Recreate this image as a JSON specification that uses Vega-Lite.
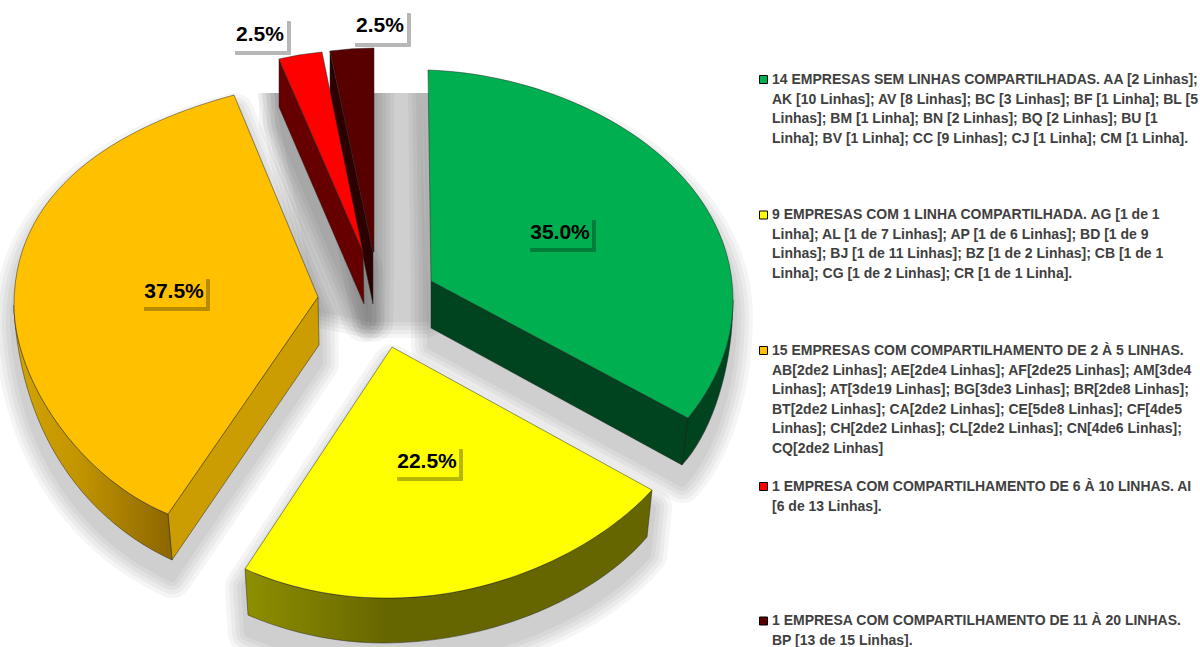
{
"$schema":"https://vega.github.io/schema/vega-lite/v6.json",
"width":1200,"height":647,"padding":0,
"autosize":{"type":"none"},
"background":"white",
"view":{"stroke":null},
"config":{"axis":{"domain":false,"ticks":false,"labels":false,"grid":false,"title":null},"legend":{"disable":true}},
"datasets":{
"sombra":[{"ordem":6,"nome":"fundo"},{"ordem":5,"nome":"bordo"},{"ordem":4,"nome":"vermelho"},{"ordem":3,"nome":"laranja"},{"ordem":2,"nome":"amarelo"},{"ordem":1,"nome":"verde"}],
"mascara":[{"ordem":7,"nome":"mascara"}],
"fatias":[
{"ordem":5,"nome":"bordo","percentual":2.5,"rotulo":"2.5%"},
{"ordem":4,"nome":"vermelho","percentual":2.5,"rotulo":"2.5%"},
{"ordem":3,"nome":"laranja","percentual":37.5,"rotulo":"37.5%"},
{"ordem":2,"nome":"amarelo","percentual":22.5,"rotulo":"22.5%"},
{"ordem":1,"nome":"verde","percentual":35.0,"rotulo":"35.0%"}],
"legenda":[
{"ordem":1,"nome":"verde","texto":"14 EMPRESAS SEM LINHAS COMPARTILHADAS. AA [2 Linhas];\nAK [10 Linhas]; AV [8 Linhas]; BC [3 Linhas]; BF [1 Linha]; BL [5\nLinhas]; BM [1 Linha]; BN [2 Linhas]; BQ [2 Linhas]; BU [1\nLinha]; BV [1 Linha]; CC [9 Linhas]; CJ [1 Linha]; CM [1 Linha]."},
{"ordem":2,"nome":"amarelo","texto":"9 EMPRESAS COM 1 LINHA COMPARTILHADA. AG [1 de 1\nLinha]; AL [1 de 7 Linhas]; AP [1 de 6 Linhas]; BD [1 de 9\nLinhas]; BJ [1 de 11 Linhas]; BZ [1 de 2 Linhas]; CB [1 de 1\nLinha]; CG [1 de 2 Linhas]; CR [1 de 1 Linha]."},
{"ordem":3,"nome":"laranja","texto":"15 EMPRESAS COM COMPARTILHAMENTO DE 2 À 5 LINHAS.\nAB[2de2 Linhas]; AE[2de4 Linhas]; AF[2de25 Linhas]; AM[3de4\nLinhas]; AT[3de19 Linhas]; BG[3de3 Linhas]; BR[2de8 Linhas];\nBT[2de2 Linhas]; CA[2de2 Linhas]; CE[5de8 Linhas]; CF[4de5\nLinhas]; CH[2de2 Linhas]; CL[2de2 Linhas]; CN[4de6 Linhas];\nCQ[2de2 Linhas]"},
{"ordem":4,"nome":"vermelho","texto":"1 EMPRESA COM COMPARTILHAMENTO DE 6 À 10 LINHAS. AI\n[6 de 13 Linhas]."},
{"ordem":5,"nome":"bordo","texto":"1 EMPRESA COM COMPARTILHAMENTO DE 11 À 20 LINHAS.\nBP [13 de 15 Linhas]."}]
},
"resolve":{"scale":{"x":"independent","y":"independent","shape":"independent","fill":"independent"}},
"layer":[
{"data":{"name":"sombra"},"mark":{"type":"point","filled":true,"size":4,"fill":"#000","stroke":"#000","strokeWidth":40,"strokeJoin":"round","opacity":0.035,"yOffset":18},
"encoding":{"x":{"field":"ordem","type":"quantitative","axis":null,"scale":{"domain":[1,2,3,4,5,6],"range":[431,392,318,363,373,373]}},"y":{"field":"ordem","type":"quantitative","axis":null,"scale":{"domain":[1,2,3,4,5,6],"range":[281,347,297,252,252,252]}},
"shape":{"field":"nome","type":"nominal","legend":null,"scale":{"domain":["verde","amarelo","laranja","vermelho","bordo","fundo"],"range":["M0 0 L-3 -211 C144 -206 302 -116 302 19 L301 44 C297 100 278 155 251 184 L0 47 Z","M0 0 L260 143 L255 190 C203 251 98 296 -9 296 C-57 296 -105 285 -144 268 L-147 222 Z","M0 0 L-84 -202 C-184 -175 -304 -117 -304 8 L-304 13 C-296 143 -228 225 -146 263 L1 48 Z","M0 0 L-84 -193 L-84 -145 L1 52 Z","M1 0 L1 -204 L-43 -201 L-43 -153 L0 52 Z","M-98 -190 L42 -190 L52 48 L-3 48 L-53 38 Z"]}}}},
{"data":{"name":"sombra"},"mark":{"type":"point","filled":true,"size":4,"fill":"#000","stroke":"#000","strokeWidth":32,"strokeJoin":"round","opacity":0.035,"yOffset":18},
"encoding":{"x":{"field":"ordem","type":"quantitative","axis":null,"scale":{"domain":[1,2,3,4,5,6],"range":[431,392,318,363,373,373]}},"y":{"field":"ordem","type":"quantitative","axis":null,"scale":{"domain":[1,2,3,4,5,6],"range":[281,347,297,252,252,252]}},
"shape":{"field":"nome","type":"nominal","legend":null,"scale":{"domain":["verde","amarelo","laranja","vermelho","bordo","fundo"],"range":["M0 0 L-3 -211 C144 -206 302 -116 302 19 L301 44 C297 100 278 155 251 184 L0 47 Z","M0 0 L260 143 L255 190 C203 251 98 296 -9 296 C-57 296 -105 285 -144 268 L-147 222 Z","M0 0 L-84 -202 C-184 -175 -304 -117 -304 8 L-304 13 C-296 143 -228 225 -146 263 L1 48 Z","M0 0 L-84 -193 L-84 -145 L1 52 Z","M1 0 L1 -204 L-43 -201 L-43 -153 L0 52 Z","M-98 -190 L42 -190 L52 48 L-3 48 L-53 38 Z"]}}}},
{"data":{"name":"sombra"},"mark":{"type":"point","filled":true,"size":4,"fill":"#000","stroke":"#000","strokeWidth":24,"strokeJoin":"round","opacity":0.035,"yOffset":18},
"encoding":{"x":{"field":"ordem","type":"quantitative","axis":null,"scale":{"domain":[1,2,3,4,5,6],"range":[431,392,318,363,373,373]}},"y":{"field":"ordem","type":"quantitative","axis":null,"scale":{"domain":[1,2,3,4,5,6],"range":[281,347,297,252,252,252]}},
"shape":{"field":"nome","type":"nominal","legend":null,"scale":{"domain":["verde","amarelo","laranja","vermelho","bordo","fundo"],"range":["M0 0 L-3 -211 C144 -206 302 -116 302 19 L301 44 C297 100 278 155 251 184 L0 47 Z","M0 0 L260 143 L255 190 C203 251 98 296 -9 296 C-57 296 -105 285 -144 268 L-147 222 Z","M0 0 L-84 -202 C-184 -175 -304 -117 -304 8 L-304 13 C-296 143 -228 225 -146 263 L1 48 Z","M0 0 L-84 -193 L-84 -145 L1 52 Z","M1 0 L1 -204 L-43 -201 L-43 -153 L0 52 Z","M-98 -190 L42 -190 L52 48 L-3 48 L-53 38 Z"]}}}},
{"data":{"name":"sombra"},"mark":{"type":"point","filled":true,"size":4,"fill":"#000","stroke":"#000","strokeWidth":16,"strokeJoin":"round","opacity":0.035,"yOffset":18},
"encoding":{"x":{"field":"ordem","type":"quantitative","axis":null,"scale":{"domain":[1,2,3,4,5,6],"range":[431,392,318,363,373,373]}},"y":{"field":"ordem","type":"quantitative","axis":null,"scale":{"domain":[1,2,3,4,5,6],"range":[281,347,297,252,252,252]}},
"shape":{"field":"nome","type":"nominal","legend":null,"scale":{"domain":["verde","amarelo","laranja","vermelho","bordo","fundo"],"range":["M0 0 L-3 -211 C144 -206 302 -116 302 19 L301 44 C297 100 278 155 251 184 L0 47 Z","M0 0 L260 143 L255 190 C203 251 98 296 -9 296 C-57 296 -105 285 -144 268 L-147 222 Z","M0 0 L-84 -202 C-184 -175 -304 -117 -304 8 L-304 13 C-296 143 -228 225 -146 263 L1 48 Z","M0 0 L-84 -193 L-84 -145 L1 52 Z","M1 0 L1 -204 L-43 -201 L-43 -153 L0 52 Z","M-98 -190 L42 -190 L52 48 L-3 48 L-53 38 Z"]}}}},
{"data":{"name":"sombra"},"mark":{"type":"point","filled":true,"size":4,"fill":"#000","stroke":"#000","strokeWidth":8,"strokeJoin":"round","opacity":0.035,"yOffset":18},
"encoding":{"x":{"field":"ordem","type":"quantitative","axis":null,"scale":{"domain":[1,2,3,4,5,6],"range":[431,392,318,363,373,373]}},"y":{"field":"ordem","type":"quantitative","axis":null,"scale":{"domain":[1,2,3,4,5,6],"range":[281,347,297,252,252,252]}},
"shape":{"field":"nome","type":"nominal","legend":null,"scale":{"domain":["verde","amarelo","laranja","vermelho","bordo","fundo"],"range":["M0 0 L-3 -211 C144 -206 302 -116 302 19 L301 44 C297 100 278 155 251 184 L0 47 Z","M0 0 L260 143 L255 190 C203 251 98 296 -9 296 C-57 296 -105 285 -144 268 L-147 222 Z","M0 0 L-84 -202 C-184 -175 -304 -117 -304 8 L-304 13 C-296 143 -228 225 -146 263 L1 48 Z","M0 0 L-84 -193 L-84 -145 L1 52 Z","M1 0 L1 -204 L-43 -201 L-43 -153 L0 52 Z","M-98 -190 L42 -190 L52 48 L-3 48 L-53 38 Z"]}}}},
{"data":{"name":"mascara"},"mark":{"type":"point","filled":true,"size":4,"fill":"#fff","stroke":null,"opacity":1},
"encoding":{"x":{"field":"ordem","type":"quantitative","axis":null,"scale":{"domain":[7,8],"range":[380,400]}},"y":{"field":"ordem","type":"quantitative","axis":null,"scale":{"domain":[7,8],"range":[0,10]}},
"shape":{"field":"nome","type":"nominal","legend":null,"scale":{"domain":["mascara"],"range":["M-380 0 H372 V93 H-380 Z"]}}}},
{"data":{"name":"fatias"},"transform":[{"filter":"datum.nome!='amarelo'"}],"mark":{"type":"point","filled":true,"size":4,"stroke":"#222","strokeWidth":0.6,"strokeOpacity":0.8,"opacity":1},
"encoding":{"x":{"field":"ordem","type":"quantitative","axis":null,"scale":{"domain":[1,2,3,4,5],"range":[431,392,318,363,373]}},"y":{"field":"ordem","type":"quantitative","axis":null,"scale":{"domain":[1,2,3,4,5],"range":[281,347,297,252,252]}},
"fill":{"field":"nome","type":"nominal","legend":null,"scale":{"domain":["verde","laranja","vermelho","bordo"],"range":["#00431F","#CC9D00","#660000","#2B0000"]}},
"shape":{"field":"nome","type":"nominal","legend":null,"scale":{"domain":["verde","laranja","vermelho","bordo"],"range":["M0 0 L257 137 L251 184 L0 47 Z M257 137 L251 184 C278 155 297 100 301 44 L302 19 C302 64 284 104 257 137 Z","M0 0 L-150 217 L-146 263 L1 48 Z","M-84 -193 L-84 -145 L1 52 L0 0 Z","M-43 -201 L-43 -153 L0 52 L0 0 Z"]}}}},
{"data":{"name":"fatias"},"transform":[{"filter":"datum.nome=='laranja'"}],"mark":{"type":"point","filled":true,"size":4,"shape":"M-150 217 L-146 263 C-228 225 -296 143 -304 13 L-304 8 C-304 83 -238 181 -150 217 Z","stroke":"#222","strokeWidth":0.6,"strokeOpacity":0.8,"opacity":1,"fill":{"gradient":"linear","x1":0,"y1":0,"x2":1,"y2":0,"stops":[{"offset":0,"color":"#D4A400"},{"offset":0.4,"color":"#C39500"},{"offset":1,"color":"#8C6600"}]}},
"encoding":{"x":{"field":"ordem","type":"quantitative","axis":null,"scale":{"domain":[1,2,3,4,5],"range":[431,392,318,363,373]}},"y":{"field":"ordem","type":"quantitative","axis":null,"scale":{"domain":[1,2,3,4,5],"range":[281,347,297,252,252]}}}},
{"data":{"name":"fatias"},"transform":[{"filter":"datum.nome=='amarelo'"}],"mark":{"type":"point","filled":true,"size":4,"shape":"M260 143 L255 190 C203 251 98 296 -9 296 C-57 296 -105 285 -144 268 L-147 222 C-107 240 -57 251 -9 251 C98 253 203 205 260 143 Z","stroke":"#222","strokeWidth":0.6,"strokeOpacity":0.8,"opacity":1,"fill":{"gradient":"linear","x1":0,"y1":0,"x2":1,"y2":0,"stops":[{"offset":0,"color":"#8F8F00"},{"offset":0.35,"color":"#666600"},{"offset":1,"color":"#666600"}]}},
"encoding":{"x":{"field":"ordem","type":"quantitative","axis":null,"scale":{"domain":[1,2,3,4,5],"range":[431,392,318,363,373]}},"y":{"field":"ordem","type":"quantitative","axis":null,"scale":{"domain":[1,2,3,4,5],"range":[281,347,297,252,252]}}}},
{"data":{"name":"fatias"},"mark":{"type":"point","filled":true,"size":4,"stroke":"#222","strokeWidth":0.6,"strokeOpacity":0.8,"opacity":1},
"encoding":{"x":{"field":"ordem","type":"quantitative","axis":null,"scale":{"domain":[1,2,3,4,5],"range":[431,392,318,363,373]}},"y":{"field":"ordem","type":"quantitative","axis":null,"scale":{"domain":[1,2,3,4,5],"range":[281,347,297,252,252]}},
"fill":{"field":"nome","type":"nominal","legend":null,"scale":{"domain":["verde","amarelo","laranja","vermelho","bordo"],"range":["#00B050","#FFFF00","#FFC000","#FF0000","#580000"]}},
"shape":{"field":"nome","type":"nominal","legend":null,"scale":{"domain":["verde","amarelo","laranja","vermelho","bordo"],"range":["M0 0 L-3 -211 C144 -206 302 -116 302 19 C302 64 284 104 257 137 Z","M0 0 L260 143 C203 205 98 253 -9 251 C-57 251 -107 240 -147 222 Z","M0 0 L-84 -202 C-184 -175 -304 -117 -304 8 C-304 83 -238 181 -150 217 Z","M0 0 L-84 -193 Q-63 -198 -41 -200 Z","M0 0 L-43 -201 Q-21 -204 1 -204 L1 0 Z"]}}}},
{"data":{"name":"fatias"},"mark":{"type":"point","filled":true,"size":4,"fill":"#000","stroke":"#000","strokeWidth":2,"strokeJoin":"round","opacity":0.28,"xOffset":3,"yOffset":3},
"encoding":{"x":{"field":"ordem","type":"quantitative","axis":null,"scale":{"domain":[1,2,3,4,5],"range":[560,427,174,260,380]}},"y":{"field":"ordem","type":"quantitative","axis":null,"scale":{"domain":[1,2,3,4,5],"range":[233,462,292,35,27]}},
"shape":{"field":"nome","type":"nominal","legend":null,"scale":{"domain":["verde","amarelo","laranja","vermelho","bordo"],"range":["M-32 -15 H32 V15 H-32 Z","M-32 -15 H32 V15 H-32 Z","M-32 -15 H32 V15 H-32 Z","M-27 -16 H27 V16 H-27 Z","M-27 -16 H27 V16 H-27 Z"]}}}},
{"data":{"name":"fatias"},"mark":{"type":"point","filled":true,"size":4,"stroke":null,"opacity":1},
"encoding":{"x":{"field":"ordem","type":"quantitative","axis":null,"scale":{"domain":[1,2,3,4,5],"range":[560,427,174,260,380]}},"y":{"field":"ordem","type":"quantitative","axis":null,"scale":{"domain":[1,2,3,4,5],"range":[233,462,292,35,27]}},
"fill":{"field":"nome","type":"nominal","legend":null,"scale":{"domain":["verde","amarelo","laranja","vermelho","bordo"],"range":["#00B050","#FFFF00","#FFC000","#FFFFFF","#FFFFFF"]}},
"shape":{"field":"nome","type":"nominal","legend":null,"scale":{"domain":["verde","amarelo","laranja","vermelho","bordo"],"range":["M-32 -15 H32 V15 H-32 Z","M-32 -15 H32 V15 H-32 Z","M-32 -15 H32 V15 H-32 Z","M-27 -16 H27 V16 H-27 Z","M-27 -16 H27 V16 H-27 Z"]}}}},
{"data":{"name":"fatias"},"mark":{"type":"text","font":"Liberation Sans","fontWeight":"bold","fontSize":21,"color":"#000","align":"center","baseline":"middle"},
"encoding":{"x":{"field":"ordem","type":"quantitative","axis":null,"scale":{"domain":[1,2,3,4,5],"range":[560,427,174,260,380]}},"y":{"field":"ordem","type":"quantitative","axis":null,"scale":{"domain":[1,2,3,4,5],"range":[233,462,292,35,26]}},"text":{"field":"rotulo","type":"nominal"}}},
{"data":{"name":"legenda"},"mark":{"type":"point","filled":true,"size":4,"shape":"M-4 -4 H4 V4 H-4 Z","stroke":"#000","strokeWidth":1,"opacity":1},
"encoding":{"x":{"field":"ordem","type":"quantitative","axis":null,"scale":{"domain":[1,5],"range":[763.5,763.5]}},"y":{"field":"ordem","type":"quantitative","axis":null,"scale":{"domain":[1,2,3,4,5],"range":[79.5,215,350.5,486.5,621]}},
"fill":{"field":"nome","type":"nominal","legend":null,"scale":{"domain":["verde","amarelo","laranja","vermelho","bordo"],"range":["#00B050","#FFFF00","#FFC000","#FF0000","#580000"]}}}},
{"data":{"name":"legenda"},"mark":{"type":"text","font":"Liberation Sans","fontWeight":"bold","fontSize":14,"color":"#404040","align":"left","baseline":"top","lineBreak":"\n","lineHeight":19.6},
"encoding":{"x":{"field":"ordem","type":"quantitative","axis":null,"scale":{"domain":[1,5],"range":[772,772]}},"y":{"field":"ordem","type":"quantitative","axis":null,"scale":{"domain":[1,2,3,4,5],"range":[73,208,344,480,614]}},"text":{"field":"texto","type":"nominal"}}}
]
}
